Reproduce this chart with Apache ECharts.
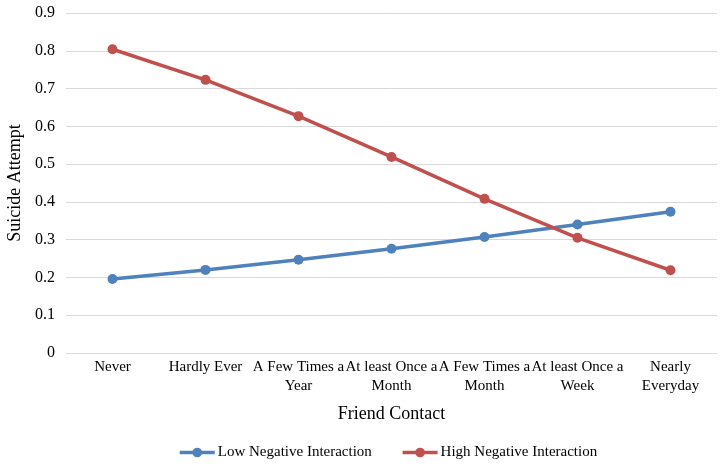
<!DOCTYPE html>
<html>
<head>
<meta charset="utf-8">
<script src="https://cdn.jsdelivr.net/npm/echarts@6/dist/echarts.min.js"></script>
<style>html,body{margin:0;padding:0;background:#fff}#c{width:724px;height:467px}</style>
</head>
<body>
<div id="c"></div>
<script>
var categories = ["Never", "Hardly Ever", "A Few Times a Year", "At least Once a Month", "A Few Times a Month", "At least Once a Week", "Nearly Everyday"];
var tickLabels = ["Never", "Hardly Ever", "A Few Times a\nYear", "At least Once a\nMonth", "A Few Times a\nMonth", "At least Once a\nWeek", "Nearly\nEveryday"];
var lowNeg = [0.196, 0.220, 0.247, 0.276, 0.307, 0.340, 0.374];
var highNeg = [0.804, 0.723, 0.627, 0.519, 0.408, 0.305, 0.219];
var yTicks = [0, 0.1, 0.2, 0.3, 0.4, 0.5, 0.6, 0.7, 0.8, 0.9];

var font = "'Liberation Serif', 'Times New Roman', serif";
var chart = echarts.init(document.getElementById('c'));
chart.setOption({
  animation: false,
  textStyle: {fontFamily: font, color: '#000'},
  grid: {left: 66, right: 7, top: 13, bottom: 114, outerBoundsMode: 'none', containLabel: false},
  legend: {
    top: 440, left: 173, itemGap: 29, itemWidth: 35, itemHeight: 12,
    textStyle: {fontFamily: font, fontSize: 15, color: '#000', padding: [0, 0, 0, -2]},
    lineStyle: {width: 3.5},
    data: ['Low Negative Interaction', 'High Negative Interaction']
  },
  xAxis: {
    type: 'category', data: categories, boundaryGap: true,
    name: 'Friend Contact', nameLocation: 'middle', nameGap: 52,
    nameTextStyle: {fontFamily: font, fontSize: 18, color: '#000'},
    axisLine: {lineStyle: {color: '#d9d9d9', width: 1}},
    axisTick: {show: false},
    axisLabel: {
      interval: 0, hideOverlap: false, margin: 5, fontSize: 15, color: '#000', fontFamily: font, lineHeight: 19,
      verticalAlign: 'top',
      formatter: function (v, i) { return tickLabels[i]; }
    }
  },
  yAxis: {
    type: 'value', min: 0, max: 0.9, interval: 0.1,
    name: 'Suicide Attempt', nameLocation: 'middle', nameGap: 38,
    nameTextStyle: {fontFamily: font, fontSize: 18, color: '#000'},
    axisLine: {show: false}, axisTick: {show: false},
    axisLabel: {fontSize: 16, color: '#000', fontFamily: font, margin: 11,
      formatter: function (v) { return v === 0 ? '0' : String(+v.toFixed(1)); }},
    splitLine: {lineStyle: {color: '#d9d9d9', width: 1}}
  },
  series: [
    {name: 'Low Negative Interaction', type: 'line', data: lowNeg, symbol: 'circle', symbolSize: 10,
      lineStyle: {color: '#4f81bd', width: 3.5}, itemStyle: {color: '#4f81bd'}},
    {name: 'High Negative Interaction', type: 'line', data: highNeg, symbol: 'circle', symbolSize: 10,
      lineStyle: {color: '#c0504d', width: 3.5}, itemStyle: {color: '#c0504d'}}
  ]
});
</script>
</body>
</html>
